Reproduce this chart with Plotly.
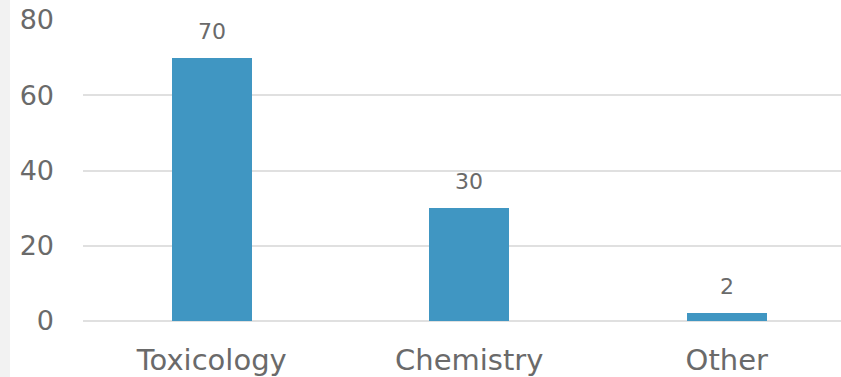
import plotly.graph_objects as go

categories = ["Toxicology", "Chemistry", "Other"]
values = [70, 30, 2]
y_ticks = [0, 20, 40, 60, 80]

W, H = 841, 377
ML, MR, MT, MB = 83, 0, 20, 56
plot_w = W - ML - MR

FONT = "DejaVu Sans"
TEXT = "#6a6a6a"
BAR = "#4096c2"
GRID = "#e0e0e0"

fig = go.Figure()
fig.add_trace(go.Bar(
    x=list(range(len(categories))),
    y=values,
    width=0.31,
    marker=dict(color=BAR, line=dict(width=0)),
    hoverinfo="skip",
))

for i, v in enumerate(values):
    fig.add_annotation(
        x=i, y=v, xref="x", yref="y", text=str(v), showarrow=False,
        yanchor="bottom", yshift=12,
        font=dict(family=FONT, size=22, color=TEXT),
    )

# light strip along the left edge
fig.add_shape(
    type="rect", xref="paper", yref="paper",
    x0=-ML / plot_w, x1=(10 - ML) / plot_w, y0=-MB / (H - MT - MB), y1=1 + MT / (H - MT - MB),
    fillcolor="#f2f2f2", line=dict(width=0), layer="below",
)

fig.update_layout(
    width=W, height=H,
    margin=dict(l=ML, r=MR, t=MT, b=MB, pad=0),
    paper_bgcolor="white", plot_bgcolor="white",
    showlegend=False, bargap=0,
    xaxis=dict(
        range=[-0.5, -0.5 + plot_w / 257.5],
        tickvals=list(range(len(categories))), ticktext=categories,
        showgrid=False, zeroline=False, showline=False, ticks="",
        tickfont=dict(family=FONT, size=29, color=TEXT),
        ticklabelstandoff=19,
    ),
    yaxis=dict(
        range=[0, 80], tickvals=y_ticks,
        showgrid=True, gridcolor=GRID, gridwidth=1.5,
        zeroline=True, zerolinecolor=GRID, zerolinewidth=1.5,
        showline=False, ticks="",
        tickfont=dict(family=FONT, size=27, color=TEXT),
        ticklabelstandoff=28,
    ),
)

fig.write_html("out.html")
